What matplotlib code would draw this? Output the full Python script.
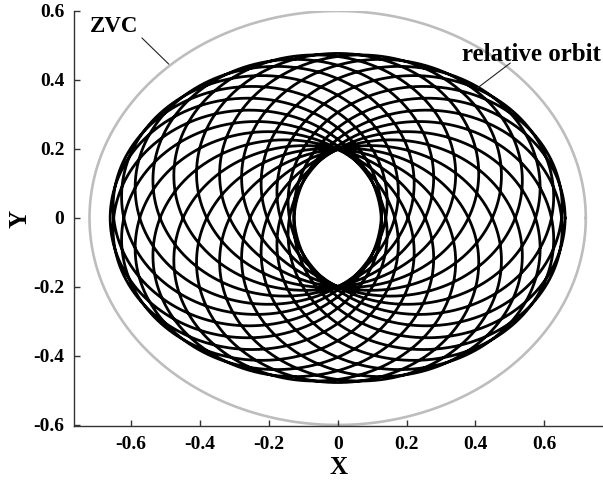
import numpy as np
import matplotlib
matplotlib.use("Agg")
import matplotlib.pyplot as plt

plt.rcParams['font.family'] = ['Liberation Serif', 'DejaVu Serif']
plt.rcParams['font.weight'] = 'bold'

# Relative orbit: superposition of a fast and a slow elliptic mode
fast_amp = (0.3925, 0.3385)      # (x, y) semi-axes of the fast mode
slow_amp = (0.2675, 0.1385)      # (x, y) semi-axes of the slow mode
n_revs = 25                      # fast revolutions per slow revolution

# Zero-velocity curve semi-axes
zvc_axes = (0.72, 0.60)

x_ticks = [-0.6, -0.4, -0.2, 0, 0.2, 0.4, 0.6]
y_ticks = [-0.6, -0.4, -0.2, 0, 0.2, 0.4, 0.6]
tick_labels_x = ['-0.6', '-0.4', '-0.2', '0', '0.2', '0.4', '0.6']
tick_labels_y = ['-0.6', '-0.4', '-0.2', '0', '0.2', '0.4', '0.6']

t = np.linspace(0, 2 * np.pi * n_revs, 60000)
orb_x = fast_amp[0] * np.cos(t) + slow_amp[0] * np.cos(t / n_revs)
orb_y = fast_amp[1] * np.sin(t) + slow_amp[1] * np.sin(t / n_revs)

phi = np.linspace(0, 2 * np.pi, 721)
zvc_x = zvc_axes[0] * np.cos(phi)
zvc_y = zvc_axes[1] * np.sin(phi)

fig = plt.figure(figsize=(6.03, 4.80), dpi=100)
ax = fig.add_axes([0.1227, 0.1125, 0.8773, 0.8646])

ax.plot(zvc_x, zvc_y, color='#bdbdbd', lw=1.9, zorder=1)
ax.plot(orb_x, orb_y, color='black', lw=2.0, zorder=2)

ax.set_xlim(-0.765, 0.77)
ax.set_ylim(-0.603, 0.6)

for side in ('top', 'right'):
    ax.spines[side].set_visible(False)
for side in ('left', 'bottom'):
    ax.spines[side].set_color('#333333')
    ax.spines[side].set_linewidth(1.0)

ax.set_xticks(x_ticks)
ax.set_xticklabels(tick_labels_x)
ax.set_yticks(y_ticks)
ax.set_yticklabels(tick_labels_y)
ax.tick_params(direction='in', length=4, width=1.0, color='#333333',
               labelsize=14, pad=7)
for lab in ax.get_xticklabels() + ax.get_yticklabels():
    lab.set_fontweight('bold')

ax.set_xlabel('X', fontsize=18, fontweight='bold', labelpad=2)
ax.set_ylabel('Y', fontsize=18, fontweight='bold', labelpad=1)

# Labels with leader lines
ax.text(-0.649, 0.554, 'ZVC', fontsize=16.5, fontweight='bold',
        ha='center', va='center')
ax.annotate('', xy=(-0.49, 0.446), xytext=(-0.568, 0.522),
            arrowprops=dict(arrowstyle='-', color='#222222', lw=0.8,
                            shrinkA=0, shrinkB=0))
ax.text(0.362, 0.455, 'relative orbit', fontsize=18, fontweight='bold',
        ha='left', va='baseline')
ax.annotate('', xy=(0.406, 0.377), xytext=(0.501, 0.449),
            arrowprops=dict(arrowstyle='-', color='#222222', lw=0.8,
                            shrinkA=0, shrinkB=0))

fig.savefig('out.png', dpi=100)
